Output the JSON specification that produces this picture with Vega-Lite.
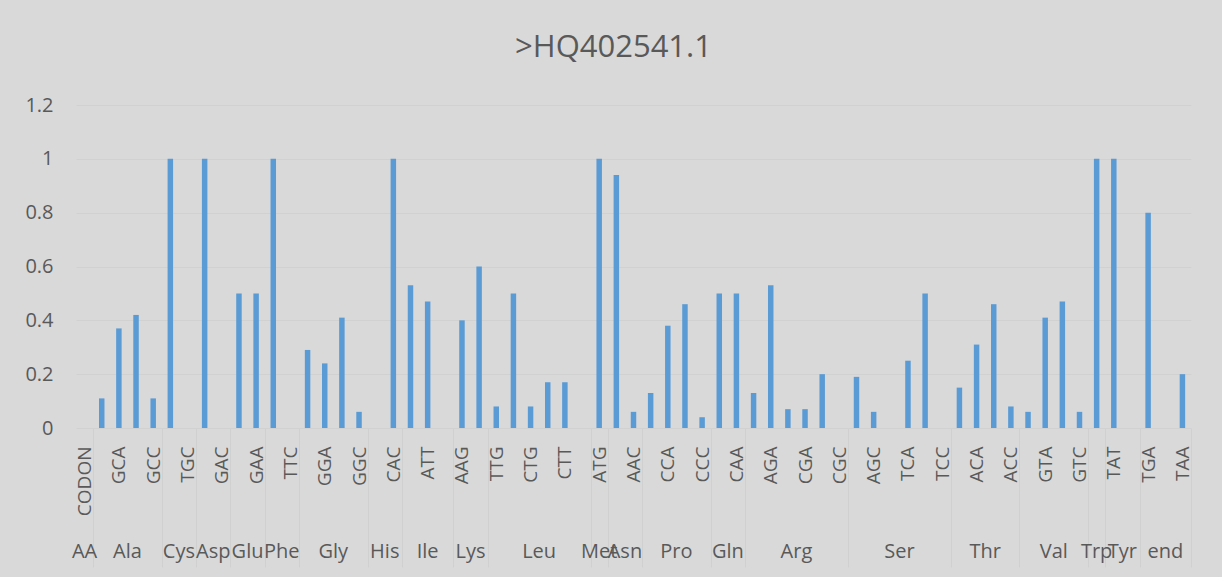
{
  "$schema": "https://vega.github.io/schema/vega-lite/v6.json",
  "width": 1115,
  "height": 323,
  "autosize": "none",
  "padding": {"left": 76, "top": 105, "right": 31, "bottom": 149},
  "background": "#d9d9d9",
  "config": {"view": {"stroke": null}, "font": "Open Sans"},
  "title": {"text": ">HQ402541.1", "fontSize": 31, "fontWeight": "normal", "font": "Open Sans", "color": "#595959", "anchor": "middle", "dx": -20, "offset": 31},
  "data": {"values": [
    {"codon": "CODON", "aa": "AA", "value": 0},
    {"codon": "GCG", "aa": "Ala", "value": 0.11},
    {"codon": "GCA", "aa": "Ala", "value": 0.37},
    {"codon": "GCT", "aa": "Ala", "value": 0.42},
    {"codon": "GCC", "aa": "Ala", "value": 0.11},
    {"codon": "TGT", "aa": "Cys", "value": 1.0},
    {"codon": "TGC", "aa": "Cys", "value": 0},
    {"codon": "GAT", "aa": "Asp", "value": 1.0},
    {"codon": "GAC", "aa": "Asp", "value": 0},
    {"codon": "GAG", "aa": "Glu", "value": 0.5},
    {"codon": "GAA", "aa": "Glu", "value": 0.5},
    {"codon": "TTT", "aa": "Phe", "value": 1.0},
    {"codon": "TTC", "aa": "Phe", "value": 0},
    {"codon": "GGG", "aa": "Gly", "value": 0.29},
    {"codon": "GGA", "aa": "Gly", "value": 0.24},
    {"codon": "GGT", "aa": "Gly", "value": 0.41},
    {"codon": "GGC", "aa": "Gly", "value": 0.06},
    {"codon": "CAT", "aa": "His", "value": 0},
    {"codon": "CAC", "aa": "His", "value": 1.0},
    {"codon": "ATA", "aa": "Ile", "value": 0.53},
    {"codon": "ATT", "aa": "Ile", "value": 0.47},
    {"codon": "ATC", "aa": "Ile", "value": 0},
    {"codon": "AAG", "aa": "Lys", "value": 0.4},
    {"codon": "AAA", "aa": "Lys", "value": 0.6},
    {"codon": "TTG", "aa": "Leu", "value": 0.08},
    {"codon": "TTA", "aa": "Leu", "value": 0.5},
    {"codon": "CTG", "aa": "Leu", "value": 0.08},
    {"codon": "CTA", "aa": "Leu", "value": 0.17},
    {"codon": "CTT", "aa": "Leu", "value": 0.17},
    {"codon": "CTC", "aa": "Leu", "value": 0},
    {"codon": "ATG", "aa": "Met", "value": 1.0},
    {"codon": "AAT", "aa": "Asn", "value": 0.94},
    {"codon": "AAC", "aa": "Asn", "value": 0.06},
    {"codon": "CCG", "aa": "Pro", "value": 0.13},
    {"codon": "CCA", "aa": "Pro", "value": 0.38},
    {"codon": "CCT", "aa": "Pro", "value": 0.46},
    {"codon": "CCC", "aa": "Pro", "value": 0.04},
    {"codon": "CAG", "aa": "Gln", "value": 0.5},
    {"codon": "CAA", "aa": "Gln", "value": 0.5},
    {"codon": "AGG", "aa": "Arg", "value": 0.13},
    {"codon": "AGA", "aa": "Arg", "value": 0.53},
    {"codon": "CGG", "aa": "Arg", "value": 0.07},
    {"codon": "CGA", "aa": "Arg", "value": 0.07},
    {"codon": "CGT", "aa": "Arg", "value": 0.2},
    {"codon": "CGC", "aa": "Arg", "value": 0},
    {"codon": "AGT", "aa": "Ser", "value": 0.19},
    {"codon": "AGC", "aa": "Ser", "value": 0.06},
    {"codon": "TCG", "aa": "Ser", "value": 0},
    {"codon": "TCA", "aa": "Ser", "value": 0.25},
    {"codon": "TCT", "aa": "Ser", "value": 0.5},
    {"codon": "TCC", "aa": "Ser", "value": 0},
    {"codon": "ACG", "aa": "Thr", "value": 0.15},
    {"codon": "ACA", "aa": "Thr", "value": 0.31},
    {"codon": "ACT", "aa": "Thr", "value": 0.46},
    {"codon": "ACC", "aa": "Thr", "value": 0.08},
    {"codon": "GTG", "aa": "Val", "value": 0.06},
    {"codon": "GTA", "aa": "Val", "value": 0.41},
    {"codon": "GTT", "aa": "Val", "value": 0.47},
    {"codon": "GTC", "aa": "Val", "value": 0.06},
    {"codon": "TGG", "aa": "Trp", "value": 1.0},
    {"codon": "TAT", "aa": "Tyr", "value": 1.0},
    {"codon": "TAC", "aa": "Tyr", "value": 0},
    {"codon": "TGA", "aa": "end", "value": 0.8},
    {"codon": "TAG", "aa": "end", "value": 0},
    {"codon": "TAA", "aa": "end", "value": 0.2}
  ]},
  "layer": [
    {
      "mark": {"type": "bar", "color": "#5b9bd5", "width": {"band": 0.32}},
      "encoding": {
        "x": {
          "field": "codon", "type": "nominal", "sort": null,
          "scale": {"paddingInner": 0, "paddingOuter": 0},
          "axis": {
            "orient": "bottom",
            "title": null, "domain": false, "labelAngle": 270,
            "labelAlign": "right", "labelBaseline": "middle",
            "labelFontSize": 19, "labelColor": "#595959", "labelFont": "Open Sans",
            "labelExpr": "indexof(['CODON','GCA','GCC','TGC','GAC','GAA','TTC','GGA','GGC','CAC','ATT','AAG','TTG','CTG','CTT','ATG','AAC','CCA','CCC','CAA','AGA','CGA','CGC','AGC','TCA','TCC','ACA','ACC','GTA','GTC','TAT','TGA','TAA'], datum.value) >= 0 ? datum.value : ''",
            "labelOverlap": false,
            "ticks": true, "tickBand": "extent", "tickSize": 139, "tickWidth": 1,
            "tickColor": "#d0d0d0",
            "tickOpacity": {"condition": {"test": "indexof(['CODON','GCC','TGC','GAC','GAA','TTC','GGC','CAC','ATC','AAA','CTC','ATG','AAC','CCC','CAA','CGC','TCC','ACC','GTC','TGG','TAC','TAA'], datum.value) >= 0", "value": 1}, "value": 0},
            "labelPadding": -121
          }
        },
        "y": {
          "field": "value", "type": "quantitative",
          "scale": {"domain": [0, 1.2], "nice": false},
          "axis": {
            "title": null, "domain": false, "ticks": false,
            "values": [0, 0.2, 0.4, 0.6, 0.8, 1, 1.2], "format": "~g",
            "labelFontSize": 20, "labelColor": "#595959", "labelFont": "Open Sans",
            "labelPadding": 23, "gridColor": "#d1d1d1", "gridWidth": 1
          }
        }
      }
    },
    {
      "mark": {"type": "bar", "opacity": 0},
      "encoding": {
        "x": {
          "field": "codon", "type": "nominal", "sort": null,
          "scale": {"paddingInner": 0, "paddingOuter": 0},
          "axis": {
            "orient": "bottom",
            "title": null, "domain": false, "ticks": false, "grid": false,
            "values": ["CODON", "GCT", "TGC", "GAC", "GAA", "TTC", "GGT", "CAC", "ATT", "AAA", "CTA", "ATG", "AAC", "CCT", "CAA", "CGA", "TCA", "ACT", "GTT", "TGG", "TAC", "TAG"],
            "labelExpr": "({'CODON':'AA','GCT':'Ala','TGC':'Cys','GAC':'Asp','GAA':'Glu','TTC':'Phe','GGT':'Gly','CAC':'His','ATT':'Ile','AAA':'Lys','CTA':'Leu','ATG':'Met','AAC':'Asn','CCT':'Pro','CAA':'Gln','CGA':'Arg','TCA':'Ser','ACT':'Thr','GTT':'Val','TGG':'Trp','TAC':'Tyr','TAG':'end'})[datum.value]",
            "labelAngle": 0, "labelAlign": "center", "labelBaseline": "top",
            "labelOverlap": false,
            "labelFontSize": 20, "labelColor": "#595959", "labelFont": "Open Sans",
            "labelPadding": 113,
            "labelOffset": {"condition": {"test": "indexof(['CODON','ATT','ATG','TGG','TAG'], datum.value) >= 0", "value": 0}, "value": -8.58}
          }
        },
        "y": {"field": "value", "type": "quantitative"}
      }
    }
  ],
  "resolve": {"scale": {"x": "independent"}, "axis": {"x": "independent"}}
}
